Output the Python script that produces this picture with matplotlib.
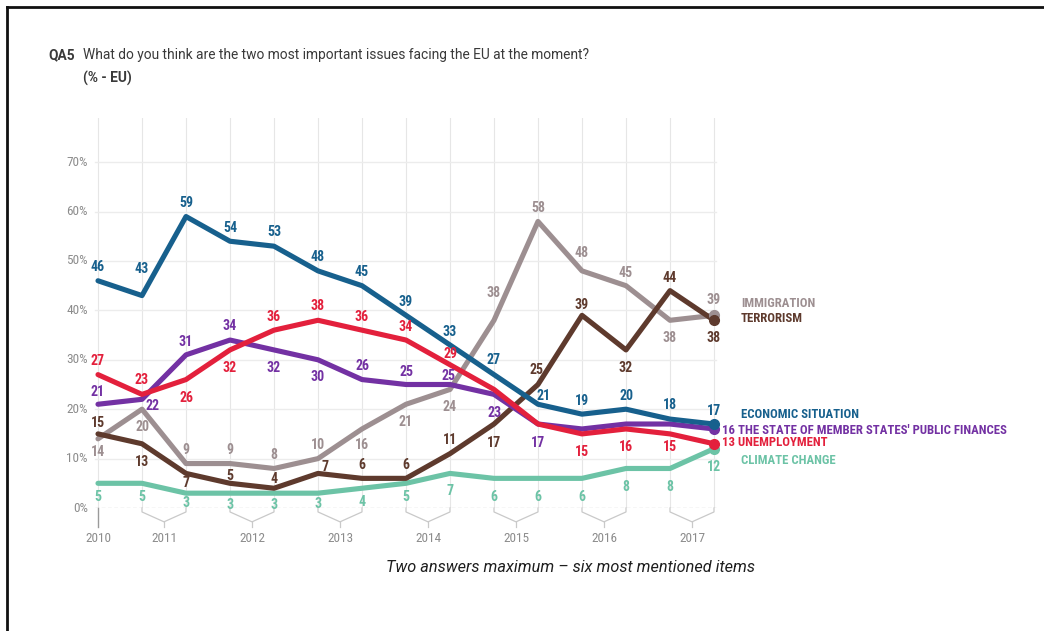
import matplotlib
matplotlib.use("Agg")
import matplotlib.pyplot as plt
from matplotlib import font_manager as fm
from matplotlib.lines import Line2D


def first_font(names):
    for n in names:
        try:
            fm.findfont(fm.FontProperties(family=n), fallback_to_default=False)
            return n
        except ValueError:
            pass
    return "DejaVu Sans"


FONT = first_font(["Roboto", "Open Sans", "DejaVu Sans"])
NARROW = first_font(["Liberation Sans Narrow", "Roboto Condensed", "Roboto"])
plt.rcParams["font.family"] = [FONT, "DejaVu Sans"]

# survey waves: spring/autumn, 2010 - spring 2017
years = ["2010", "2011", "2012", "2013", "2014", "2015", "2016", "2017"]
economic = [46, 43, 59, 54, 53, 48, 45, 39, 33, 27, 21, 19, 20, 18, 17]
unemployment = [27, 23, 26, 32, 36, 38, 36, 34, 29, 24, 17, 15, 16, 15, 13]
finances = [21, 22, 31, 34, 32, 30, 26, 25, 25, 23, 17, 16, 17, 17, 16]
immigration = [14, 20, 9, 9, 8, 10, 16, 21, 24, 38, 58, 48, 45, 38, 39]
terrorism = [15, 13, 7, 5, 4, 7, 6, 6, 11, 17, 25, 39, 32, 44, 38]
climate = [5, 5, 3, 3, 3, 3, 4, 5, 7, 6, 6, 6, 8, 8, 12]

C_BLUE = "#17608d"
C_RED = "#e3203c"
C_PURPLE = "#7331a3"
C_GREY = "#9d8f91"
C_BROWN = "#5e3a2d"
C_TEAL = "#6cc3a6"

# where each value label sits, in pixels from its point (None = no label)
A = (0, 14)
B = (0, -18)
off_econ = [A, (0, 27), A, (0, 13), A, A, A, (0, 13), (0, 13), (0, 15),
            (6, 8), (0, 13), (0, 13), A, (0, 13)]
off_unemp = [A, A, B, B, (0, 13), A, (0, 13), (0, 13), (0, 11), None, None,
             B, B, (0, -13), None]
off_fin = [(0, 12), (10, -7), (0, 13), A, B, (0, -17), A, (0, 13), (-2, 8),
           (1, -19), (0, -19), None, None, None, None]
off_imm = [(0, -13), B, A, A, (0, 13), A, (0, -16), B, B, (0, 27), (0, 13),
           (0, 18), (0, 13), B, (0, 15)]
off_terr = [(0, 11), B, (0, -10), (0, 7), (0, 9), (7, 6), (0, 13), (0, 13),
            A, (0, -19), (-2, 15), (0, 10), B, (0, 13), B]
off_clim = [(0, -14), (0, -14), (0, -10), (0, -12), (0, -12), (0, -11),
            (0, -14), (0, -14), B, (0, -19), (0, -19), (0, -19), (0, -19),
            (0, -19), B]

series = [
    (climate, C_TEAL, off_clim),
    (immigration, C_GREY, off_imm),
    (terrorism, C_BROWN, off_terr),
    (finances, C_PURPLE, off_fin),
    (economic, C_BLUE, off_econ),
    (unemployment, C_RED, off_unemp),
]

W, H = 1044, 631
fig = plt.figure(figsize=(W / 100, H / 100), dpi=100)
px = 44.0  # pixels between waves
ax = fig.add_axes([85 / W, (H - 508) / H, 635 / W, 390 / H])
ax.set_xlim(-13 / px, 14 + 6 / px)
ax.set_ylim(0, 390 / 4.94)
ax.axis("off")

n = len(economic)
xs = list(range(n))
tick_kw = dict(fontsize=9.5, color="#8c8c8c", fontfamily=NARROW)

# grid
for i in xs:
    ax.plot([i, i], [0, 390 / 4.94], color="#e6e6e6", lw=0.8, zorder=0)
for v in range(10, 80, 10):
    ax.plot([-3 / px, 14 + 2 / px], [v, v], color="#ececec", lw=1.0, zorder=0)
    ax.text(-10 / px, v, f"{v}%", ha="right", va="center", **tick_kw)
ax.plot([-3 / px, 14 + 2 / px], [0, 0], color="#bdbdbd", lw=0.9, ls=(0, (3, 2)), zorder=0)
ax.text(-10 / px, 0, "0%", ha="right", va="center", **tick_kw)

# year brackets under the axis
yb = dict(color="#c9c9c9", lw=0.9, clip_on=False)
ax.plot([0, 0], [0, -3.9], color="#9a9a9a", lw=1.0, clip_on=False)
ax.text(0, -6.1, years[0], ha="center", va="center", **tick_kw)
for k, yr in enumerate(years[1:]):
    a, b = 2 * k + 1, 2 * k + 2
    m = (a + b) / 2
    ax.plot([a, a, m, b, b], [0, -0.8, -2.8, -0.8, 0], **yb)
    ax.plot([m, m], [-2.8, -3.9], **yb)
    ax.text(m, -6.1, yr, ha="center", va="center", **tick_kw)

# lines, end dots and value labels
for vals, col, offs in series:
    ax.plot(xs, vals, color=col, lw=3.7, solid_capstyle="round",
            solid_joinstyle="round", zorder=3, clip_on=False)
    ax.plot(xs[-1], vals[-1], "o", color=col, ms=7, zorder=4, clip_on=False)
    for x, v, o in zip(xs, vals, offs):
        if o is None:
            continue
        ax.annotate(str(v), (x, v), xytext=(o[0] * 0.72, o[1] * 0.72),
                    textcoords="offset points", ha="center", va="center",
                    fontsize=10, fontweight="bold", color=col,
                    fontfamily=NARROW, zorder=5)

# series names at the right end
lx = 14 + 27 / px
nx = 14 + 8 / px
name_kw = dict(ha="left", va="center", fontsize=9.2, fontweight="bold",
               fontfamily=NARROW, clip_on=False)
ax.text(lx, (508 - 303) / 4.94, "IMMIGRATION", color=C_GREY, **name_kw)
ax.text(lx, (508 - 318) / 4.94, "TERRORISM", color=C_BROWN, **name_kw)
ax.text(lx, (508 - 414) / 4.94, "ECONOMIC SITUATION", color=C_BLUE, **name_kw)
ax.text(nx, (508 - 431) / 4.94,
        f"{finances[-1]} THE STATE OF MEMBER STATES' PUBLIC FINANCES",
        color=C_PURPLE, **name_kw)
ax.text(nx, (508 - 443) / 4.94, f"{unemployment[-1]} UNEMPLOYMENT",
        color=C_RED, **name_kw)
ax.text(lx, (508 - 461) / 4.94, "CLIMATE CHANGE", color=C_TEAL, **name_kw)

# heading
fig.text(48 / W, 1 - 55 / H, "QA5", fontsize=9.9, fontweight="bold",
         color="#3a3a3a", va="center", ha="left")
fig.text(83 / W, 1 - 55 / H,
         "What do you think are the two most important issues facing the EU at the moment?",
         fontsize=9.9, color="#3a3a3a", va="center", ha="left")
fig.text(83 / W, 1 - 78 / H, "(% - EU)", fontsize=9.9, fontweight="bold",
         color="#3a3a3a", va="center", ha="left")

fig.text(570 / W, 1 - 568 / H, "Two answers maximum \u2013 six most mentioned items",
         fontsize=11.7, fontstyle="italic", color="#1e1e1e", ha="center", va="center")

# page frame
fig.add_artist(Line2D([7 / W, 1], [1 - 7 / H, 1 - 7 / H], color="#111111", lw=2.0,
                      transform=fig.transFigure))
fig.add_artist(Line2D([7 / W, 7 / W], [0, 1 - 7 / H], color="#111111", lw=2.0,
                      transform=fig.transFigure))

fig.savefig("out.png", dpi=100)
